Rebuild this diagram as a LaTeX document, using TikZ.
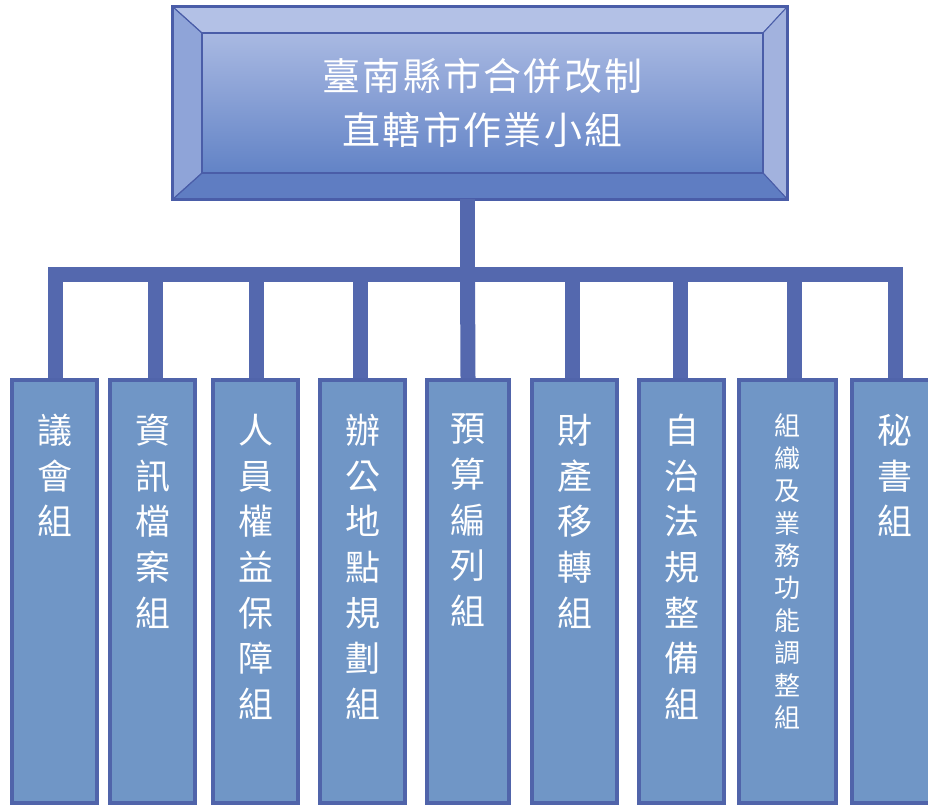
\documentclass[tikz,border=0pt]{standalone}
\usepackage{fontspec}
\newfontfamily\cjk{Noto Sans CJK TC}
\usepackage{xcolor}
\definecolor{CNavy}{HTML}{4A5DA8}
\definecolor{CLink}{HTML}{5468AE}
\definecolor{CSteel}{HTML}{7096C6}
\definecolor{CSteelEdge}{HTML}{5064AA}
\definecolor{CFaceTop}{HTML}{A9B9E2}
\definecolor{CFaceLow}{HTML}{6283C6}
\definecolor{CBevelTop}{HTML}{B3C1E6}
\definecolor{CBevelLeft}{HTML}{8FA4D8}
\definecolor{CBevelRight}{HTML}{A2B2DE}
\definecolor{CBevelBottom}{HTML}{5F7DC2}
\usepackage{tikz}
\usetikzlibrary{positioning}
\tikzstyle{headNode}=[rectangle, fill=CBevelLeft, minimum width=614pt,
  minimum height=192pt, inner sep=0pt]
\tikzstyle{faceNode}=[rectangle, top color=CFaceTop, bottom color=CFaceLow,
  minimum width=561pt, minimum height=140pt, align=center, text=white,
  font=\cjk\fontsize{38}{54}\selectfont\addfontfeatures{LetterSpace=6}]
\tikzstyle{groupNode}=[rectangle, draw=CSteelEdge, line width=4pt, fill=CSteel,
  minimum width=85pt, inner xsep=0pt, inner ysep=34pt, anchor=north, text=white,
  font=\cjk\fontsize{35}{45.7}\selectfont]
\tikzstyle{bevel}=[draw=CNavy, line width=1pt]
\tikzstyle{link}=[draw=CLink, line width=15pt]
\newcommand{\vcol}[1]{\parbox[t][355pt][t]{80pt}{\centering #1\par}}

\begin{document}
\begin{tikzpicture}[x=1pt, y=-1pt]
\clip (0,0) rectangle (928,807);
% head of the task force
\node[headNode] (top) at (480,103) {};
\node[faceNode] (face) at (482.5,103) {臺南縣市合併改制\\直轄市作業小組};
\fill[bevel, fill=CBevelTop] (top.north west) -- (top.north east) -- (face.north east) -- (face.north west) -- cycle;
\fill[bevel, fill=CBevelRight] (top.north east) -- (top.south east) -- (face.south east) -- (face.north east) -- cycle;
\fill[bevel, fill=CBevelBottom] (top.south west) -- (top.south east) -- (face.south east) -- (face.south west) -- cycle;
\draw[bevel] (top.north west) -- (face.north west);
\draw[bevel] (top.south west) -- (face.south west);
\draw[CNavy, line width=2.5pt] (face.north west) rectangle (face.south east);
\draw[CNavy, line width=3pt] (top.north west) rectangle (top.south east);
% groups
\node[groupNode] (g1) at (54.5,378) {\vcol{議\\會\\組}};
\node[groupNode] (g2) at (152.5,378) {\vcol{資\\訊\\檔\\案\\組}};
\node[groupNode] (g3) at (255.5,378) {\vcol{人\\員\\權\\益\\保\\障\\組}};
\node[groupNode] (g4) at (362.5,378) {\vcol{辦\\公\\地\\點\\規\\劃\\組}};
\node[groupNode, minimum width=82pt] (g5) at (468,378) {\vcol{預\\算\\編\\列\\組}};
\node[groupNode] (g6) at (574.5,378) {\vcol{財\\產\\移\\轉\\組}};
\node[groupNode] (g7) at (681.5,378) {\vcol{自\\治\\法\\規\\整\\備\\組}};
\node[groupNode, minimum width=97pt, font=\cjk\fontsize{26}{32.4}\selectfont] (g8) at (787,378) {\vcol{組\\織\\及\\業\\務\\功\\能\\調\\整\\組}};
\node[groupNode] (g9) at (894.5,378) {\vcol{秘\\書\\組}};
% connectors
\coordinate (bus) at (467.5,274);
\draw[link] (bus |- top.south) -- (bus);
\draw[link] ([xshift=1pt]g1.north) |- (bus);
\draw[link] ([xshift=2.5pt]g2.north) |- (bus);
\draw[link] ([xshift=1pt]g3.north) |- (bus);
\draw[link] ([xshift=-2.5pt]g4.north) |- (bus);
\draw[link] (g5.north) -- (bus);
\draw[link] ([xshift=-2pt]g6.north) |- (bus);
\draw[link] ([xshift=-1pt]g7.north) |- (bus);
\draw[link] ([xshift=7pt]g8.north) |- (bus);
\draw[link] ([xshift=1pt]g9.north) |- (bus);
\end{tikzpicture}
\end{document}
